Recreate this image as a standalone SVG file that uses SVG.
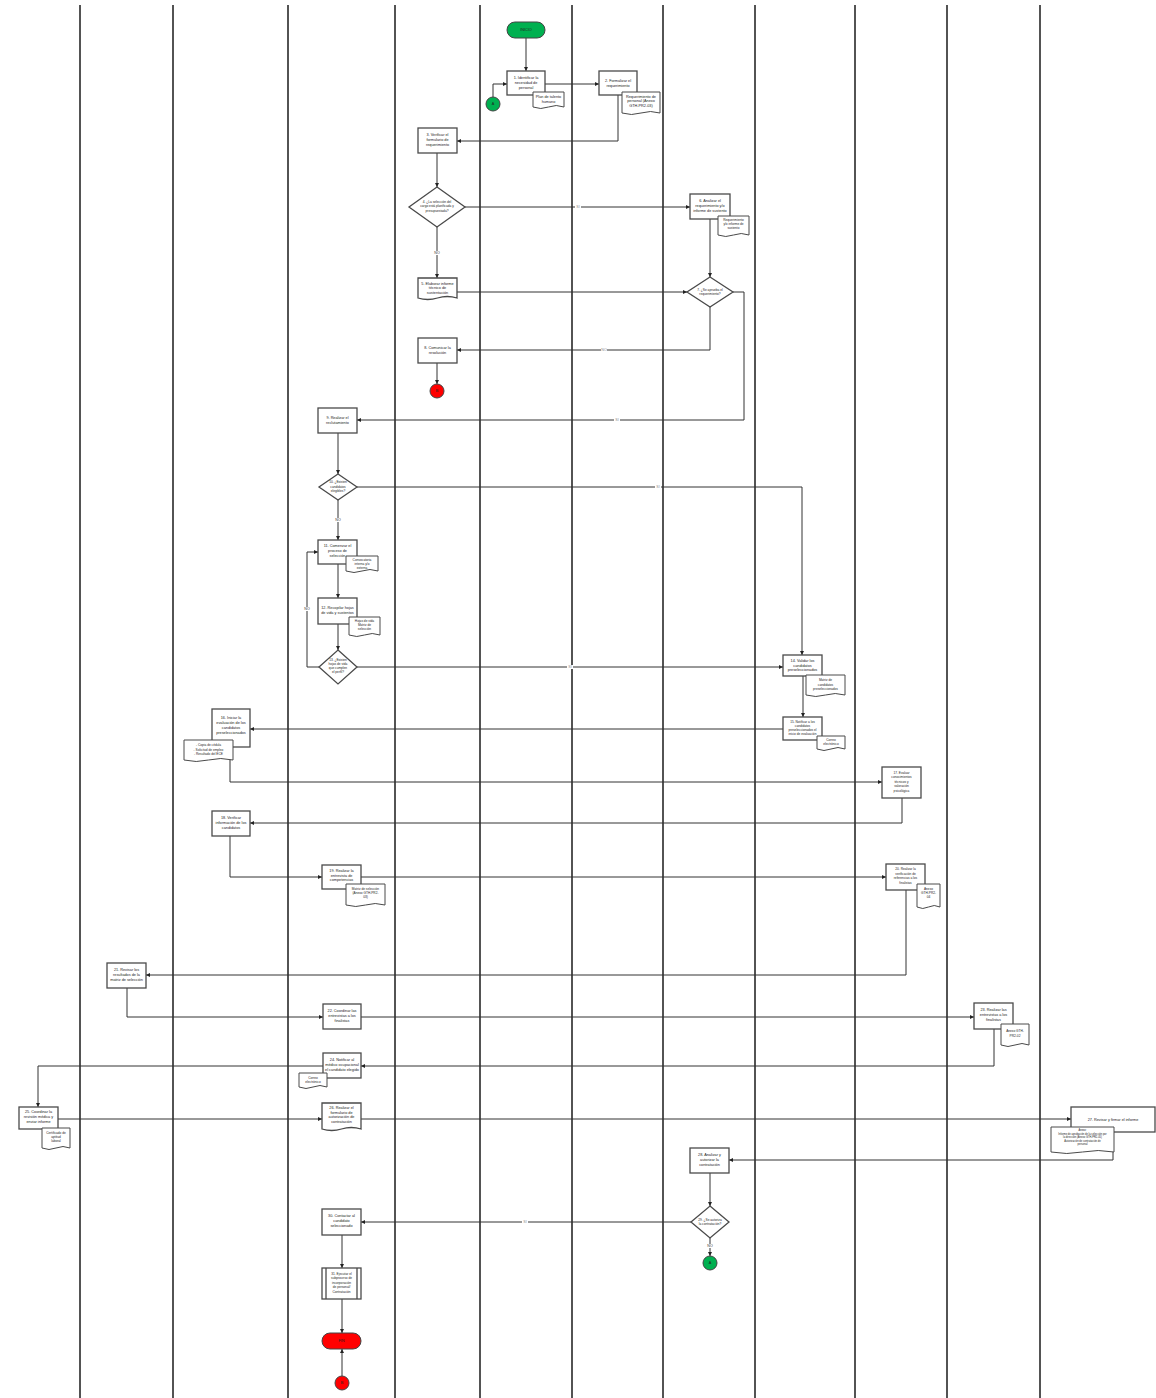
<svg xmlns="http://www.w3.org/2000/svg" xmlns:xlink="http://www.w3.org/1999/xlink" width="1156" height="1398" viewBox="0 0 1156 1398">
<style>
.lane{stroke:#1a1a1a;stroke-width:1.5}
.box{fill:#fff;stroke:#4a4a4a;stroke-width:1.3}
.doc{fill:#fff;stroke:#4a4a4a;stroke-width:1}
.edge{fill:none;stroke:#333;stroke-width:1}
.t{font-family:"Liberation Sans",Arial,sans-serif;font-size:3.8px;fill:#222;text-anchor:middle}
.s{font-size:3.2px}
.lbl{font-family:"Liberation Sans",Arial,sans-serif;font-size:3.6px;fill:#888;text-anchor:middle}
.lblbg{fill:#fff}
.green{fill:#00b050;stroke:#444;stroke-width:1}
.red{fill:#ff0000;stroke:#444;stroke-width:1}
</style>
<defs>
<marker id="arr" viewBox="0 0 10 10" refX="10" refY="5" markerWidth="4" markerHeight="4" markerUnits="userSpaceOnUse" orient="auto">
<path d="M0,0 L10,5 L0,10 Z" fill="#222"/>
</marker>
</defs>
<rect width="1156" height="1398" fill="#fff"/>
<g id="lanes">
<line class="lane" x1="80" y1="5" x2="80" y2="1398"/>
<line class="lane" x1="173" y1="5" x2="173" y2="1398"/>
<line class="lane" x1="288" y1="5" x2="288" y2="1398"/>
<line class="lane" x1="395" y1="5" x2="395" y2="1398"/>
<line class="lane" x1="480" y1="5" x2="480" y2="1398"/>
<line class="lane" x1="572" y1="5" x2="572" y2="1398"/>
<line class="lane" x1="663" y1="5" x2="663" y2="1398"/>
<line class="lane" x1="755" y1="5" x2="755" y2="1398"/>
<line class="lane" x1="855" y1="5" x2="855" y2="1398"/>
<line class="lane" x1="947" y1="5" x2="947" y2="1398"/>
<line class="lane" x1="1040" y1="5" x2="1040" y2="1398"/>
</g>
<g id="connectors">
<path class="edge" marker-end="url(#arr)" d="M526,38 V71"/>
<path class="edge" marker-end="url(#arr)" d="M493,97 V84 H507"/>
<path class="edge" marker-end="url(#arr)" d="M545,84 H599"/>
<path class="edge" marker-end="url(#arr)" d="M618,95 V141 H457"/>
<path class="edge" marker-end="url(#arr)" d="M437,153 V187"/>
<path class="edge" marker-end="url(#arr)" d="M465,207 H690"/>
<path class="edge" marker-end="url(#arr)" d="M437,227 V278"/>
<path class="edge" marker-end="url(#arr)" d="M457,292 H687"/>
<path class="edge" marker-end="url(#arr)" d="M710,219 V277"/>
<path class="edge" marker-end="url(#arr)" d="M710,307 V350 H457"/>
<path class="edge" marker-end="url(#arr)" d="M437,363 V384"/>
<path class="edge" marker-end="url(#arr)" d="M733,292 H744 V420 H357"/>
<path class="edge" marker-end="url(#arr)" d="M338,433 V474"/>
<path class="edge" marker-end="url(#arr)" d="M357,487 H802 V655"/>
<path class="edge" marker-end="url(#arr)" d="M338,500 V540"/>
<path class="edge" marker-end="url(#arr)" d="M338,564 V598"/>
<path class="edge" marker-end="url(#arr)" d="M338,624 V650"/>
<path class="edge" marker-end="url(#arr)" d="M319,667 H307 V552 H318"/>
<path class="edge" marker-end="url(#arr)" d="M357,667 H783"/>
<path class="edge" marker-end="url(#arr)" d="M803,676 V717"/>
<path class="edge" marker-end="url(#arr)" d="M783,729 H250"/>
<path class="edge" marker-end="url(#arr)" d="M230,747 V782 H882"/>
<path class="edge" marker-end="url(#arr)" d="M902,798 V823 H250"/>
<path class="edge" marker-end="url(#arr)" d="M230,836 V877 H322"/>
<path class="edge" marker-end="url(#arr)" d="M361,877 H886"/>
<path class="edge" marker-end="url(#arr)" d="M906,890 V975 H146"/>
<path class="edge" marker-end="url(#arr)" d="M127,988 V1017 H323"/>
<path class="edge" marker-end="url(#arr)" d="M361,1017 H974"/>
<path class="edge" marker-end="url(#arr)" d="M994,1029 V1066 H361"/>
<path class="edge" marker-end="url(#arr)" d="M323,1066 H38 V1107"/>
<path class="edge" marker-end="url(#arr)" d="M58,1119 H322"/>
<path class="edge" marker-end="url(#arr)" d="M361,1119 H1071"/>
<path class="edge" marker-end="url(#arr)" d="M1113,1132 V1160 H729"/>
<path class="edge" marker-end="url(#arr)" d="M710,1173 V1206"/>
<path class="edge" marker-end="url(#arr)" d="M691,1222 H361"/>
<path class="edge" marker-end="url(#arr)" d="M710,1238 V1256"/>
<path class="edge" marker-end="url(#arr)" d="M342,1235 V1268"/>
<path class="edge" marker-end="url(#arr)" d="M342,1299 V1333"/>
<path class="edge" marker-end="url(#arr)" d="M342,1376 V1349"/>
<rect class="lblbg" x="575" y="205" width="6" height="4"/><text class="lbl" x="578" y="208.3">SI</text>
<rect class="lblbg" x="434" y="251" width="6" height="4"/><text class="lbl" x="437" y="254.3" fill="#333" style="fill:#333">NO</text>
<rect class="lblbg" x="601" y="348" width="6" height="4"/><text class="lbl" x="604" y="351.3">NO</text>
<rect class="lblbg" x="614" y="418" width="6" height="4"/><text class="lbl" x="617" y="421.3">SI</text>
<rect class="lblbg" x="655" y="485" width="6" height="4"/><text class="lbl" x="658" y="488.3">SI</text>
<rect class="lblbg" x="335" y="518" width="6" height="4"/><text class="lbl" x="338" y="521.3" style="fill:#333">NO</text>
<rect class="lblbg" x="304" y="607" width="6" height="4"/><text class="lbl" x="307" y="610.3" style="fill:#333">NO</text>
<rect class="lblbg" x="567" y="665" width="6" height="4"/><text class="lbl" x="570" y="668.3">SI</text>
<rect class="lblbg" x="522" y="1220" width="6" height="4"/><text class="lbl" x="525" y="1223.3">SI</text>
<rect class="lblbg" x="707" y="1244" width="6" height="4"/><text class="lbl" x="710" y="1247.3" style="fill:#333">NO</text>
</g>
<g id="inicio"><rect class="green" x="507" y="22" width="38" height="16" rx="8"/><text class="t" x="526" y="31.3">INICIO</text></g>
<g id="conA1"><circle class="green" cx="493" cy="104" r="7"/><text class="t" x="493" y="105.3">A</text></g>
<g id="n1"><rect class="box" x="507" y="71" width="38" height="24"/><text class="t" x="526"><tspan x="526" y="78.5">1. Identificar la</tspan><tspan x="526" y="83.5">necesidad de</tspan><tspan x="526" y="88.5">personal</tspan></text>
<path class="doc" d="M533,92 H564 V107 Q556.25,104 548.5,107 T533,107 Z"/><text class="t"><tspan x="548.5" y="98">Plan de talento</tspan><tspan x="548.5" y="102.5">humano</tspan></text></g>
<g id="n2"><rect class="box" x="599" y="71" width="38" height="24"/><text class="t"><tspan x="618" y="81.5">2. Formalizar el</tspan><tspan x="618" y="86.5">requerimiento</tspan></text>
<path class="doc" d="M622,92 H660 V113 Q650.5,110 641,113 T622,113 Z"/><text class="t"><tspan x="641" y="97.5">Requerimiento de</tspan><tspan x="641" y="102">personal (Anexo</tspan><tspan x="641" y="106.5">GTH-PR2-03)</tspan></text></g>
<g id="n3"><rect class="box" x="418" y="128" width="39" height="25"/><text class="t"><tspan x="437.5" y="135.5">3. Verificar el</tspan><tspan x="437.5" y="140.5">formulario de</tspan><tspan x="437.5" y="145.5">requerimiento</tspan></text></g>
<g id="n4"><path class="box" d="M437,187 L465,207 L437,227 L409,207 Z"/><text class="t s"><tspan x="437" y="202.5">4. ¿La selección del</tspan><tspan x="437" y="207">cargo está planificada y</tspan><tspan x="437" y="211.5">presupuestada?</tspan></text></g>
<g id="n6"><rect class="box" x="690" y="194" width="40" height="25"/><text class="t"><tspan x="710" y="201.5">6. Analizar el</tspan><tspan x="710" y="206.5">requerimiento y/o</tspan><tspan x="710" y="211.5">informe de sustento</tspan></text>
<path class="doc" d="M718,216 H749 V235 Q741.25,232 733.5,235 T718,235 Z"/><text class="t s"><tspan x="733.5" y="221">Requerimiento</tspan><tspan x="733.5" y="225">y/o informe de</tspan><tspan x="733.5" y="229">sustento</tspan></text></g>
<g id="n5"><path class="box" d="M418,278 H457 V298 Q447.25,295 437.5,298 T418,298 Z"/><text class="t"><tspan x="437.5" y="284.5">5. Elaborar informe</tspan><tspan x="437.5" y="289">técnico de</tspan><tspan x="437.5" y="293.5">sustentación</tspan></text></g>
<g id="n7"><path class="box" d="M710,277 L733,292 L710,307 L687,292 Z"/><text class="t s"><tspan x="710" y="290.5">7. ¿Se aprueba el</tspan><tspan x="710" y="295">requerimiento?</tspan></text></g>
<g id="n8"><rect class="box" x="418" y="338" width="39" height="25"/><text class="t"><tspan x="437.5" y="349">8. Comunicar la</tspan><tspan x="437.5" y="354">resolución</tspan></text></g>
<g id="conB1"><circle class="red" cx="437" cy="391" r="7"/><text class="t" x="437" y="392.3">B</text></g>
<g id="n9"><rect class="box" x="318" y="408" width="39" height="25"/><text class="t"><tspan x="337.5" y="419">9. Realizar el</tspan><tspan x="337.5" y="424">reclutamiento</tspan></text></g>
<g id="n10"><path class="box" d="M338,474 L357,487 L338,500 L319,487 Z"/><text class="t s"><tspan x="338" y="483">10. ¿Existen</tspan><tspan x="338" y="487.5">candidatos</tspan><tspan x="338" y="492">elegibles?</tspan></text></g>
<g id="n11"><rect class="box" x="318" y="540" width="39" height="24"/><text class="t"><tspan x="337.5" y="547">11. Comenzar el</tspan><tspan x="337.5" y="552">proceso de</tspan><tspan x="337.5" y="557">selección</tspan></text>
<path class="doc" d="M346,556 H378 V571 Q370,568 362,571 T346,571 Z"/><text class="t s"><tspan x="362" y="560.5">Convocatoria</tspan><tspan x="362" y="564.5">interna y/o</tspan><tspan x="362" y="568.5">externa</tspan></text></g>
<g id="n12"><rect class="box" x="318" y="598" width="39" height="26"/><text class="t"><tspan x="337.5" y="609">12. Recopilar hojas</tspan><tspan x="337.5" y="614">de vida y sustentos</tspan></text>
<path class="doc" d="M349,617 H380 V635 Q372.25,632 364.5,635 T349,635 Z"/><text class="t s"><tspan x="364.5" y="621.5">Hojas de vida</tspan><tspan x="364.5" y="625.5">Matriz de</tspan><tspan x="364.5" y="629.5">selección</tspan></text></g>
<g id="n13"><path class="box" d="M338,650 L357,667 L338,684 L319,667 Z"/><text class="t s"><tspan x="338" y="661">13. ¿Existen</tspan><tspan x="338" y="665">hojas de vida</tspan><tspan x="338" y="669">que cumplen</tspan><tspan x="338" y="673">el perfil?</tspan></text></g>
<g id="n14"><rect class="box" x="783" y="655" width="39" height="21"/><text class="t"><tspan x="802.5" y="662">14. Validar los</tspan><tspan x="802.5" y="666.5">candidatos</tspan><tspan x="802.5" y="671">preseleccionados</tspan></text>
<path class="doc" d="M806,675 H845 V695 Q835.25,692 825.5,695 T806,695 Z"/><text class="t s"><tspan x="825.5" y="681">Matriz de</tspan><tspan x="825.5" y="685.5">candidatos</tspan><tspan x="825.5" y="690">preseleccionados</tspan></text></g>
<g id="n15"><rect class="box" x="783" y="717" width="39" height="23"/><text class="t s"><tspan x="802.5" y="722.5">15. Notificar a los</tspan><tspan x="802.5" y="726.5">candidatos</tspan><tspan x="802.5" y="730.5">preseleccionados el</tspan><tspan x="802.5" y="734.5">inicio de evaluación</tspan></text>
<path class="doc" d="M817,736 H845 V749 Q838,746 831,749 T817,749 Z"/><text class="t s"><tspan x="831" y="741">Correo</tspan><tspan x="831" y="745">electrónico</tspan></text></g>
<g id="n16"><rect class="box" x="212" y="709" width="38" height="38"/><text class="t"><tspan x="231" y="719">16. Iniciar la</tspan><tspan x="231" y="724">evaluación de los</tspan><tspan x="231" y="729">candidatos</tspan><tspan x="231" y="734">preseleccionados</tspan></text>
<path class="doc" d="M184,740 H233 V760 Q220.75,757 208.5,760 T184,760 Z"/><text class="t s"><tspan x="208.5" y="746">- Copia de cédula</tspan><tspan x="208.5" y="750.5">- Solicitud de empleo</tspan><tspan x="208.5" y="755">- Resultado del ECE</tspan></text></g>
<g id="n17"><rect class="box" x="882" y="767" width="39" height="31"/><text class="t s"><tspan x="901.5" y="773.5">17. Evaluar</tspan><tspan x="901.5" y="778">conocimientos</tspan><tspan x="901.5" y="782.5">técnicos y</tspan><tspan x="901.5" y="787">valoración</tspan><tspan x="901.5" y="791.5">psicológica</tspan></text></g>
<g id="n18"><rect class="box" x="212" y="811" width="38" height="25"/><text class="t"><tspan x="231" y="818.5">18. Verificar</tspan><tspan x="231" y="823.5">información de los</tspan><tspan x="231" y="828.5">candidatos</tspan></text></g>
<g id="n19"><rect class="box" x="322" y="865" width="39" height="24"/><text class="t"><tspan x="341.5" y="872">19. Realizar la</tspan><tspan x="341.5" y="876.5">entrevista de</tspan><tspan x="341.5" y="881">competencias</tspan></text>
<path class="doc" d="M346,884 H385 V905 Q375.25,902 365.5,905 T346,905 Z"/><text class="t s"><tspan x="365.5" y="889.5">Matriz de selección</tspan><tspan x="365.5" y="893.5">(Anexo GTH-PR2-</tspan><tspan x="365.5" y="897.5">03)</tspan></text></g>
<g id="n20"><rect class="box" x="886" y="864" width="39" height="26"/><text class="t s"><tspan x="905.5" y="870">20. Realizar la</tspan><tspan x="905.5" y="874.5">verificación de</tspan><tspan x="905.5" y="879">referencias a los</tspan><tspan x="905.5" y="883.5">finalistas</tspan></text>
<path class="doc" d="M917,884 H940 V907 Q934.25,904 928.5,907 T917,907 Z"/><text class="t s"><tspan x="928.5" y="890">Anexo</tspan><tspan x="928.5" y="894">GTH-PR2-</tspan><tspan x="928.5" y="898">04</tspan></text></g>
<g id="n21"><rect class="box" x="107" y="963" width="39" height="25"/><text class="t"><tspan x="126.5" y="970.5">21. Revisar los</tspan><tspan x="126.5" y="975.5">resultados de la</tspan><tspan x="126.5" y="980.5">matriz de selección</tspan></text></g>
<g id="n22"><rect class="box" x="323" y="1004" width="38" height="25"/><text class="t"><tspan x="342" y="1011.5">22. Coordinar las</tspan><tspan x="342" y="1016.5">entrevistas a los</tspan><tspan x="342" y="1021.5">finalistas</tspan></text></g>
<g id="n23"><rect class="box" x="974" y="1003" width="39" height="26"/><text class="t"><tspan x="993.5" y="1011">23. Realizar las</tspan><tspan x="993.5" y="1016">entrevistas a los</tspan><tspan x="993.5" y="1021">finalistas</tspan></text>
<path class="doc" d="M1001,1024 H1029 V1045 Q1022,1042 1015,1045 T1001,1045 Z"/><text class="t s"><tspan x="1015" y="1032">Anexo GTH-</tspan><tspan x="1015" y="1036.5">PR2-02</tspan></text></g>
<g id="n24"><rect class="box" x="323" y="1053" width="38" height="25"/><text class="t"><tspan x="342" y="1060.5">24. Notificar al</tspan><tspan x="342" y="1065.5">médico ocupacional</tspan><tspan x="342" y="1070.5">el candidato elegido</tspan></text>
<path class="doc" d="M299,1073 H327 V1087 Q320,1084 313,1087 T299,1087 Z"/><text class="t s"><tspan x="313" y="1078.5">Correo</tspan><tspan x="313" y="1082.5">electrónico</tspan></text></g>
<g id="n25"><rect class="box" x="19" y="1107" width="39" height="22"/><text class="t"><tspan x="38.5" y="1113">25. Coordinar la</tspan><tspan x="38.5" y="1118">revisión médica y</tspan><tspan x="38.5" y="1123">enviar informe</tspan></text>
<path class="doc" d="M42,1128 H70 V1148 Q63,1145 56,1148 T42,1148 Z"/><text class="t s"><tspan x="56" y="1133.5">Certificado de</tspan><tspan x="56" y="1137.5">aptitud</tspan><tspan x="56" y="1141.5">laboral</tspan></text></g>
<g id="n26"><path class="box" d="M322,1103 H361 V1129 Q351.25,1126 341.5,1129 T322,1129 Z"/><text class="t"><tspan x="341.5" y="1109">26. Realizar el</tspan><tspan x="341.5" y="1113.5">formulario de</tspan><tspan x="341.5" y="1118">autorización de</tspan><tspan x="341.5" y="1122.5">contratación</tspan></text></g>
<g id="n27"><rect class="box" x="1071" y="1107" width="84" height="25"/><text class="t" x="1113" y="1120.5">27. Revisar y firmar el informe</text>
<path class="doc" d="M1051,1127 H1114 V1152 Q1098.25,1149 1082.5,1152 T1051,1152 Z"/><text class="t" style="font-size:2.6px"><tspan x="1082.5" y="1131">Anexo:</tspan><tspan x="1082.5" y="1134.5">Informe de aprobación de la selección por</tspan><tspan x="1082.5" y="1138">la dirección (Anexo GTH-PR2-05)</tspan><tspan x="1082.5" y="1141.5">Autorización de contratación de</tspan><tspan x="1082.5" y="1145">personal</tspan></text></g>
<g id="n28"><rect class="box" x="690" y="1148" width="39" height="25"/><text class="t"><tspan x="709.5" y="1155.5">28. Analizar y</tspan><tspan x="709.5" y="1160.5">autorizar la</tspan><tspan x="709.5" y="1165.5">contratación</tspan></text></g>
<g id="n29"><path class="box" d="M710,1206 L729,1222 L710,1238 L691,1222 Z"/><text class="t s"><tspan x="710" y="1220.5">29. ¿Se autoriza</tspan><tspan x="710" y="1225">la contratación?</tspan></text></g>
<g id="conA2"><circle class="green" cx="710" cy="1263" r="7"/><text class="t" x="710" y="1264.3">A</text></g>
<g id="n30"><rect class="box" x="322" y="1209" width="39" height="26"/><text class="t"><tspan x="341.5" y="1216.5">30. Contactar al</tspan><tspan x="341.5" y="1221.5">candidato</tspan><tspan x="341.5" y="1226.5">seleccionado</tspan></text></g>
<g id="n31"><rect class="box" x="322" y="1268" width="39" height="31"/><line class="box" x1="326" y1="1268" x2="326" y2="1299"/><line class="box" x1="357" y1="1268" x2="357" y2="1299"/><text class="t s"><tspan x="341.5" y="1274.5">31. Ejecutar el</tspan><tspan x="341.5" y="1279">subproceso de</tspan><tspan x="341.5" y="1283.5">incorporación</tspan><tspan x="341.5" y="1288">de personal/</tspan><tspan x="341.5" y="1292.5">Contratación</tspan></text></g>
<g id="fin"><rect class="red" x="322" y="1333" width="39" height="16" rx="8"/><text class="t" x="341.5" y="1342.3">FIN</text></g>
<g id="conB2"><circle class="red" cx="342" cy="1383" r="7"/><text class="t" x="342" y="1384.3">B</text></g>
</svg>
